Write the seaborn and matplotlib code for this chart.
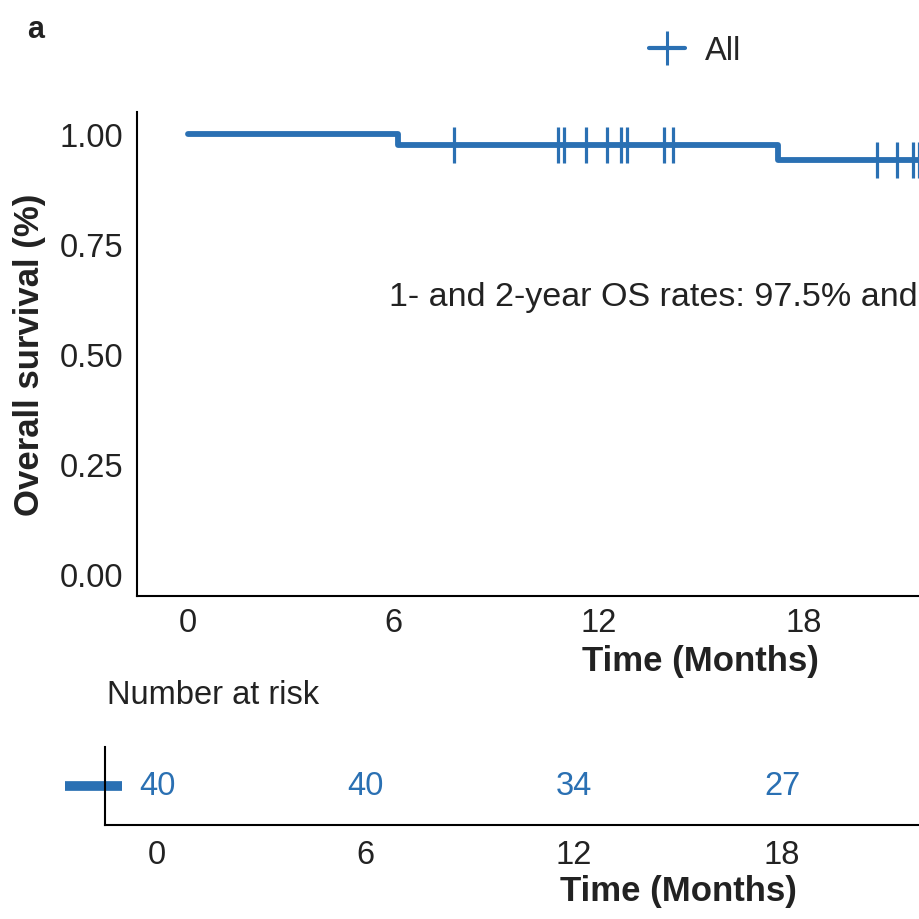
import matplotlib
matplotlib.use("Agg")
import matplotlib.pyplot as plt
from matplotlib.lines import Line2D
import numpy as np
import pandas as pd
import seaborn as sns

# Kaplan-Meier step curve (months, survival probability)
step_time = [0.0, 6.15, 17.27, 26.0]
step_surv = [1.0, 0.975, 0.940, 0.940]

# censored observations (months)
censor_time = [7.79, 10.82, 11.01, 11.64, 12.25, 12.67, 12.83, 13.93, 14.18,
               20.16, 20.73, 21.22, 21.39]

# number at risk table
risk_time = [0, 6, 12, 18]
risk_n = [40, 40, 34, 27]

x_ticks = [0, 6, 12, 18, 24, 30]
y_ticks = [0.00, 0.25, 0.50, 0.75, 1.00]
group = "All"
note = "1- and 2-year OS rates: 97.5% and 94.0%"

BLUE = "#2a70b3"
FS = 23.5

sns.set_theme(style="white")
plt.rcParams["font.family"] = ["Liberation Sans", "DejaVu Sans"]

# survival at each censor time (value of the step function)
idx = np.searchsorted(step_time, censor_time, side="right") - 1
censor_surv = [step_surv[i] for i in idx]

curve_df = pd.DataFrame({"time": step_time, "surv": step_surv})
censor_df = pd.DataFrame({"time": censor_time, "surv": censor_surv})

W = 920.0
fig = plt.figure(figsize=(9.2, 9.2), dpi=100)
fig.patch.set_facecolor("white")

# main survival panel (runs past the right edge, like the cropped original)
ax = fig.add_axes([137 / W, (W - 597) / W, 1127.6 / W, 484 / W])
sns.lineplot(data=curve_df, x="time", y="surv", drawstyle="steps-post",
             estimator=None, color=BLUE, lw=4.2, ax=ax)
sns.scatterplot(data=censor_df, x="time", y="surv", marker="|", s=26 ** 2,
                color=BLUE, linewidth=2.3, ax=ax, zorder=3)

ax.set_xlim(-1.5, 31.5)
ax.set_ylim(-0.05, 1.05)
ax.set_xticks(x_ticks)
ax.set_yticks(y_ticks)
ax.set_yticklabels([f"{v:.2f}" for v in y_ticks])
ax.tick_params(axis="both", labelsize=FS, length=3, width=1.4,
               color="black", labelcolor="#222222", direction="out")
ax.tick_params(axis="x", pad=5)
ax.tick_params(axis="y", pad=7)
for s in ["top", "right"]:
    ax.spines[s].set_visible(False)
for s in ["left", "bottom"]:
    ax.spines[s].set_color("black")
    ax.spines[s].set_linewidth(1.5)

ax.set_xlabel("Time (Months)", fontsize=25, fontweight="bold", color="#222222")
ax.set_ylabel("Overall survival (%)", fontsize=25, fontweight="bold", color="#222222")
ax.xaxis.label.set_verticalalignment("center")
ax.xaxis.set_label_coords(0.5, (597 - 662) / 484)
ax.yaxis.label.set_verticalalignment("center")
ax.yaxis.set_label_coords((30 - 137) / 1127.6, (597 - 355) / 484)

ax.text(5.88, 0.63, note, fontsize=24.5, va="center", ha="left", color="#222222")

handle = Line2D([], [], color=BLUE, lw=3, marker="|", markersize=25,
                markeredgewidth=2.2)
fig.legend(handles=[handle], labels=[group], loc="center",
           bbox_to_anchor=(695 / W, 1 - 52 / W), frameon=False,
           handlelength=1.1, handletextpad=0.6, fontsize=FS)

fig.text(27 / W, 1 - 38 / W, "a", fontsize=22, fontweight="bold",
         va="baseline", ha="left", color="#222222")

# number-at-risk table
ax2 = fig.add_axes([105 / W, (W - 826) / W, 1146 / W, 78 / W])
ax2.set_xlim(-1.5, 31.5)
ax2.set_ylim(-0.5, 0.5)
for t, n in zip(risk_time, risk_n):
    ax2.text(t, 0, str(n), ha="center", va="center", color=BLUE, fontsize=FS)
ax2.set_xticks(x_ticks)
ax2.set_yticks([])
ax2.tick_params(axis="x", labelsize=FS, length=3, width=1.4, color="black",
                labelcolor="#222222", pad=7)
for s in ["top", "right"]:
    ax2.spines[s].set_visible(False)
for s in ["left", "bottom"]:
    ax2.spines[s].set_color("black")
    ax2.spines[s].set_linewidth(1.5)
# strata key drawn as a coloured bar in place of the row label
ax2.plot([-0.035, 0.015], [0.5, 0.5], transform=ax2.transAxes, clip_on=False,
         lw=7, color=BLUE, solid_capstyle="butt")
ax2.text(0.002, (826 - 695) / 78, "Number at risk", transform=ax2.transAxes,
         fontsize=FS, va="center", ha="left", color="#222222")
ax2.set_xlabel("Time (Months)", fontsize=25, fontweight="bold", color="#222222")
ax2.xaxis.label.set_verticalalignment("center")
ax2.xaxis.set_label_coords(0.5, (826 - 892) / 78)

fig.savefig("out.png", dpi=100)
